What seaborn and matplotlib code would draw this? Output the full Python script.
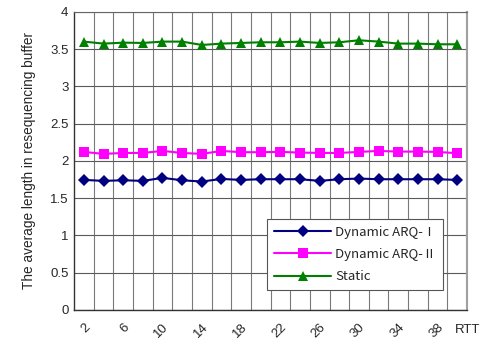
import numpy as np
import pandas as pd
import matplotlib
matplotlib.use("Agg")
import matplotlib.pyplot as plt
import seaborn as sns

rtt = [2, 4, 6, 8, 10, 12, 14, 16, 18, 20, 22, 24, 26, 28, 30, 32, 34, 36, 38, 40]
arq1 = [1.745, 1.732, 1.740, 1.732, 1.772, 1.740, 1.723, 1.758, 1.745, 1.754,
        1.754, 1.754, 1.732, 1.754, 1.763, 1.754, 1.754, 1.754, 1.754, 1.745]
arq2 = [2.121, 2.094, 2.107, 2.107, 2.134, 2.107, 2.094, 2.134, 2.117, 2.117,
        2.121, 2.112, 2.107, 2.107, 2.121, 2.134, 2.125, 2.125, 2.121, 2.103]
static = [3.602, 3.575, 3.588, 3.584, 3.602, 3.602, 3.557, 3.575, 3.584, 3.593,
          3.593, 3.602, 3.584, 3.593, 3.620, 3.602, 3.575, 3.575, 3.566, 3.566]
names = ["Dynamic ARQ-Ⅰ", "Dynamic ARQ-Ⅱ", "Static"]
tick_labels = ["2", "6", "10", "14", "18", "22", "26", "30", "34", "38"]

df = pd.DataFrame({
    "RTT": rtt * 3,
    "value": arq1 + arq2 + static,
    "series": [names[0]] * 20 + [names[1]] * 20 + [names[2]] * 20,
})

sns.set_style("white")
plt.rcParams['font.family'] = ['Liberation Sans', 'Noto Sans CJK JP', 'DejaVu Sans']

fig = plt.figure(figsize=(4.81, 3.42), dpi=100)
ax = fig.add_axes([0.154, 0.094, 0.817, 0.871])

#grid first, under the lines
ax.set_xlim(1, 41)
ax.set_ylim(0, 4)
ax.set_yticks(np.arange(0, 4.01, 0.5))
ax.set_yticklabels(["0", "0.5", "1", "1.5", "2", "2.5", "3", "3.5", "4"])
ax.set_xticks(np.arange(3, 41, 2), minor=True)
ax.set_xticks(rtt[::2])
ax.set_xticklabels(tick_labels, rotation=45, ha="right", va="top", rotation_mode="anchor")
ax.grid(True, which="minor", axis="x", color="#7a7a7a", lw=0.8)
ax.grid(True, which="major", axis="y", color="#5a5a5a", lw=0.8)
ax.set_axisbelow(True)

palette = {names[0]: "#000080", names[1]: "#ff00ff", names[2]: "#008000"}
markers = {names[0]: "D", names[1]: "s", names[2]: "^"}
sns.lineplot(data=df, x="RTT", y="value", hue="series", style="series",
             palette=palette, markers=markers, dashes=False, markersize=6.5,
             markeredgewidth=0, linewidth=1.5, ax=ax)

ax.tick_params(axis="both", which="both", length=0, labelsize=9.5, pad=4)
ax.tick_params(axis="x", pad=8)
ax.set_xlabel("")
ax.set_ylabel("The average length in resequencing buffer", fontsize=9.8, labelpad=10)

for s in ["left", "bottom"]:
    ax.spines[s].set_color("#333333")
    ax.spines[s].set_linewidth(1.0)
ax.spines["top"].set_color("#666666")
ax.spines["right"].set_color("#a0a0a0")
ax.spines["right"].set_linewidth(1.5)

leg = ax.legend(loc="lower right", bbox_to_anchor=(0.94, 0.065),
                prop={"family": ["Noto Sans CJK JP"], "size": 9.5},
                frameon=True, fancybox=False, edgecolor="#555555", framealpha=1,
                handlelength=4.3, borderpad=0.55, labelspacing=0.7, handletextpad=0.3,
                borderaxespad=0)
leg.get_frame().set_linewidth(0.8)

fig.text(0.999, 0.035, "RTT", fontsize=9.5, ha="right", va="center")

fig.savefig("out.png", dpi=100)
